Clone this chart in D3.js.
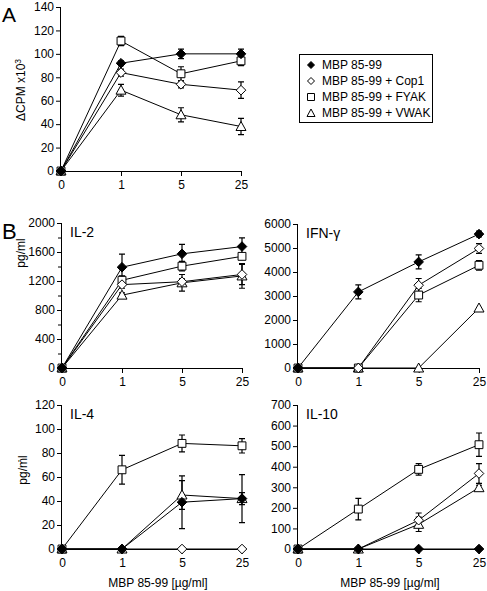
<!DOCTYPE html>
<html><head><meta charset="utf-8">
<script src="https://cdn.jsdelivr.net/npm/d3@7"></script>
<style>
body{margin:0;background:#fff;}
text{font-family:"Liberation Sans",Arial,sans-serif;fill:#000;}
</style></head>
<body><svg id="c" width="487" height="591"></svg>
<script>
// ---- data ----
const xLabels = ["0","1","5","25"];
const seriesNames = ["MBP 85-99","MBP 85-99 + Cop1","MBP 85-99 + FYAK","MBP 85-99 + VWAK"];
const seriesSymbols = ["fdiamond","odiamond","square","triangle"];

// Panel A: ΔCPM x10^3
const cpmMBP  = [0, 92, 100, 100];
const cpmCop1 = [0, 84, 74, 69];
const cpmFYAK = [0, 111, 83, 94];
const cpmVWAK = [0, 69, 48, 38];
const cpmErrMBP  = [0, 2, 4, 4];
const cpmErrCop1 = [0, 3, 3, 7];
const cpmErrFYAK = [0, 4, 6, 4];
const cpmErrVWAK = [0, 5, 6, 7];
const cpmTicks = [0,20,40,60,80,100,120,140];

// IL-2 pg/ml
const il2MBP  = [0, 1390, 1575, 1675];
const il2Cop1 = [0, 1150, 1190, 1290];
const il2FYAK = [0, 1210, 1405, 1540];
const il2VWAK = [0, 1005, 1175, 1270];
const il2ErrMBP  = [0, 180, 130, 120];
const il2ErrCop1 = [0, 50, 40, 140];
const il2ErrFYAK = [0, 60, 65, 30];
const il2ErrVWAK = [0, 30, 115, 170];
const il2Ticks = [0,400,800,1200,1600,2000];
const il2Minor = [200,600,1000,1400,1800];

// IFN-gamma pg/ml
const ifnMBP  = [0, 3170, 4420, 5580];
const ifnCop1 = [0, 0, 3450, 4980];
const ifnFYAK = [0, 0, 3040, 4280];
const ifnVWAK = [0, 0, 0, 2500];
const ifnErrMBP  = [0, 290, 290, 120];
const ifnErrCop1 = [0, 0, 280, 200];
const ifnErrFYAK = [0, 0, 280, 200];
const ifnErrVWAK = [0, 0, 0, 0];
const ifnTicks = [0,1000,2000,3000,4000,5000,6000];

// IL-4 pg/ml
const il4MBP  = [0, 0, 39, 42];
const il4Cop1 = [0, 0, 0, 0];
const il4FYAK = [0, 66, 88, 86];
const il4VWAK = [0, 0, 45, 42];
const il4ErrMBP  = [0, 0, 22, 20];
const il4ErrCop1 = [0, 0, 0, 0];
const il4ErrFYAK = [0, 12, 7, 6];
const il4ErrVWAK = [0, 0, 12, 5];
const il4Ticks = [0,20,40,60,80,100,120];

// IL-10 pg/ml
const il10MBP  = [0, 0, 0, 0];
const il10Cop1 = [0, 0, 140, 367];
const il10FYAK = [0, 194, 387, 507];
const il10VWAK = [0, 0, 120, 298];
const il10ErrMBP  = [0, 0, 0, 0];
const il10ErrCop1 = [0, 0, 35, 48];
const il10ErrFYAK = [0, 52, 28, 57];
const il10ErrVWAK = [0, 0, 35, 12];
const il10Ticks = [0,100,200,300,400,500,600,700];

const panels = [
  {box:[61,241,171,7], max:140, ticks:cpmTicks, minor:[], vals:[cpmMBP,cpmCop1,cpmFYAK,cpmVWAK], errs:[cpmErrMBP,cpmErrCop1,cpmErrFYAK,cpmErrVWAK], title:null},
  {box:[62,242,368,223], max:2000, ticks:il2Ticks, minor:il2Minor, vals:[il2MBP,il2Cop1,il2FYAK,il2VWAK], errs:[il2ErrMBP,il2ErrCop1,il2ErrFYAK,il2ErrVWAK], title:"IL-2"},
  {box:[298,479,368,224], max:6000, ticks:ifnTicks, minor:[], vals:[ifnMBP,ifnCop1,ifnFYAK,ifnVWAK], errs:[ifnErrMBP,ifnErrCop1,ifnErrFYAK,ifnErrVWAK], title:"IFN-γ"},
  {box:[62,242,549,405], max:120, ticks:il4Ticks, minor:[], vals:[il4MBP,il4Cop1,il4FYAK,il4VWAK], errs:[il4ErrMBP,il4ErrCop1,il4ErrFYAK,il4ErrVWAK], title:"IL-4"},
  {box:[298,479,549,405], max:700, ticks:il10Ticks, minor:[], vals:[il10MBP,il10Cop1,il10FYAK,il10VWAK], errs:[il10ErrMBP,il10ErrCop1,il10ErrFYAK,il10ErrVWAK], title:"IL-10"}
];

const svg = d3.select("#c");

function symbolPath(kind){
  if(kind==="fdiamond"||kind==="odiamond") return "M0,-4.8L4.8,0L0,4.8L-4.8,0Z";
  if(kind==="square") return d3.symbol(d3.symbolSquare, 62)();
  return "M0,-5L5,4L-5,4Z";
}
function drawMarker(g, kind, x, y){
  g.append("path").attr("d", symbolPath(kind))
    .attr("transform", `translate(${x},${y})`)
    .attr("fill", kind==="fdiamond" ? "#000" : "#fff")
    .attr("stroke","#000").attr("stroke-width",1);
}

panels.forEach(p=>{
  const [x0,x1,y0,y1] = p.box;
  const x = d3.scalePoint().domain(xLabels).range([x0,x1]);
  const y = d3.scaleLinear().domain([0,p.max]).range([y0,y1]);
  const g = svg.append("g");

  const yAxis = d3.axisLeft(y).tickValues(p.ticks).tickSize(5).tickPadding(2).tickFormat(d3.format("d"));
  const ga = g.append("g").attr("transform",`translate(${x0},0)`).call(yAxis);
  ga.select(".domain").attr("d",`M-0.5,${y0}V${y1}`);
  ga.selectAll("text").style("font-size","12px");
  if(p.minor.length){
    g.append("g").attr("transform",`translate(${x0},0)`)
      .call(d3.axisLeft(y).tickValues(p.minor).tickSize(4).tickFormat(""))
      .select(".domain").remove();
  }
  const xAxis = d3.axisBottom(x).tickSize(5).tickPadding(4);
  const gx = g.append("g").attr("transform",`translate(0,${y0})`).call(xAxis);
  gx.select(".domain").attr("d",`M${x0},0.5H${x1}`);
  gx.selectAll("text").style("font-size","12px");

  // lines
  const line = d3.line().x((d,i)=>x(xLabels[i])).y(d=>y(d));
  const order = [3,2,1,0];
  order.forEach(s=>{
    g.append("path").datum(p.vals[s]).attr("d",line)
      .attr("fill","none").attr("stroke","#000").attr("stroke-width",1);
  });
  // error bars
  order.forEach(s=>{
    p.vals[s].forEach((v,i)=>{
      const e = p.errs[s][i];
      if(!e) return;
      const cx = x(xLabels[i]);
      g.append("path")
        .attr("d",`M${cx},${y(v+e)}V${y(v-e)}M${cx-3},${y(v+e)}H${cx+3}M${cx-3},${y(v-e)}H${cx+3}`)
        .attr("stroke","#000").attr("stroke-width",1.2).attr("fill","none");
    });
  });
  order.forEach(s=>{
    p.vals[s].forEach((v,i)=> drawMarker(g, seriesSymbols[s], x(xLabels[i]), y(v)));
  });
  if(p.title){
    g.append("text").attr("x",x0+8).attr("y",y1+14).style("font-size","14px").text(p.title);
  }
});

// panel letters & axis labels
svg.append("text").attr("x",2).attr("y",22).style("font-size","21px").text("A");
svg.append("text").attr("x",2).attr("y",239).style("font-size","22px").text("B");

const yl = svg.append("text").attr("transform","translate(25,90) rotate(-90)")
  .attr("text-anchor","middle").style("font-size","12px");
yl.append("tspan").text("ΔCPM x10");
yl.append("tspan").attr("dy",-4).style("font-size","8.5px").text("3");

svg.append("text").attr("transform","translate(25,253) rotate(-90)")
  .attr("text-anchor","middle").style("font-size","12px").text("pg/ml");
svg.append("text").attr("transform","translate(27,470) rotate(-90)")
  .attr("text-anchor","middle").style("font-size","12px").text("pg/ml");
svg.append("text").attr("x",18).attr("y",466).style("font-size","9px").text("'");

svg.append("text").attr("x",158).attr("y",587).attr("text-anchor","middle").style("font-size","12px").text("MBP 85-99 [µg/ml]");
svg.append("text").attr("x",390).attr("y",587).attr("text-anchor","middle").style("font-size","12px").text("MBP 85-99 [µg/ml]");

// legend
const lg = svg.append("g");
lg.append("rect").attr("x",299.5).attr("y",54.5).attr("width",133).attr("height",68)
  .attr("fill","#fff").attr("stroke","#000").attr("stroke-width",1);
seriesNames.forEach((n,i)=>{
  const yy = 65 + i*16;
  const k = seriesSymbols[i];
  let d;
  if(k==="fdiamond"||k==="odiamond") d="M0,-3.5L3.5,0L0,3.5L-3.5,0Z";
  else if(k==="square") d="M-3.5,-3.5H3.5V3.5H-3.5Z";
  else d="M0,-4L4,3.5L-4,3.5Z";
  lg.append("path").attr("d",d).attr("transform",`translate(311,${yy})`)
    .attr("fill",k==="fdiamond"?"#000":"#fff").attr("stroke","#000").attr("stroke-width",1);
  lg.append("text").attr("x",322).attr("y",yy+4).style("font-size","12px").text(n);
});
</script>
</body></html>
